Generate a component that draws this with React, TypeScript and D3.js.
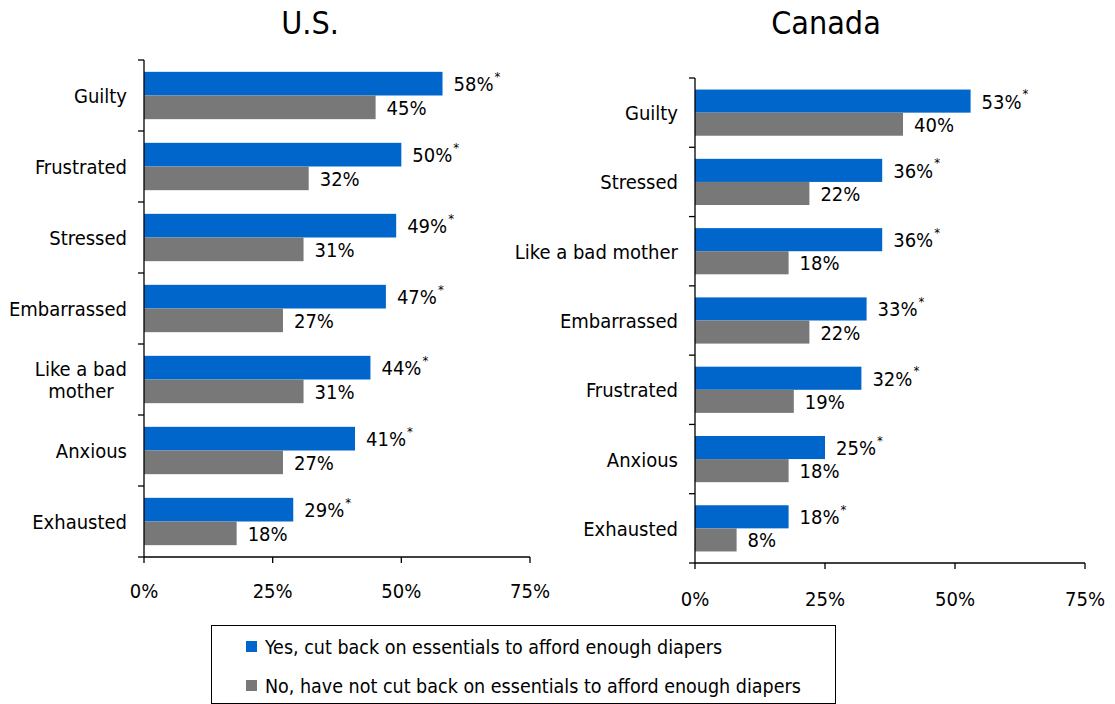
import React, { useEffect, useRef } from "react";
import * as d3 from "d3";

const usCategories = ["Guilty", "Frustrated", "Stressed", "Embarrassed", "Like a bad mother", "Anxious", "Exhausted"];
const usYes = [58, 50, 49, 47, 44, 41, 29];
const usNo = [45, 32, 31, 27, 31, 27, 18];

const caCategories = ["Guilty", "Stressed", "Like a bad mother", "Embarrassed", "Frustrated", "Anxious", "Exhausted"];
const caYes = [53, 36, 36, 33, 32, 25, 18];
const caNo = [40, 22, 18, 22, 19, 18, 8];

const xTicks = [0, 25, 50, 75];
const seriesKeys = ["yes", "no"];
const legendLabels = [
  "Yes, cut back on essentials to afford enough diapers",
  "No, have not cut back on essentials to afford enough diapers",
];

const BLUE = "#0066CC";
const GREY = "#787878";
const FONT = "'DejaVu Sans Condensed', 'DejaVu Sans', sans-serif";

type Panel = {
  title: string;
  cats: string[];
  yes: number[];
  no: number[];
  x0: number;
  x1: number;
  top: number;
  bottom: number;
  titleX: number;
  tickY: number;
  wrap: boolean;
};

const panels: Panel[] = [
  { title: "U.S.", cats: usCategories, yes: usYes, no: usNo, x0: 144, x1: 530, top: 60, bottom: 557, titleX: 310, tickY: 598, wrap: true },
  { title: "Canada", cats: caCategories, yes: caYes, no: caNo, x0: 695, x1: 1085, top: 78, bottom: 563, titleX: 826, tickY: 606, wrap: false },
];

function txt(sel: any, size: number) {
  return sel
    .style("font-family", FONT)
    .style("font-stretch", "condensed")
    .style("font-size", size + "px")
    .attr("fill", "#000");
}

export default function App() {
  const ref = useRef<SVGSVGElement>(null);
  useEffect(() => {
    const svg = d3.select(ref.current);
    svg.selectAll("*").remove();

    panels.forEach((p) => {
      const g = svg.append("g");
      const x = d3.scaleLinear().domain([0, 75]).range([p.x0, p.x1]);
      const y0 = d3.scaleBand<string>().domain(p.cats).range([p.top, p.bottom]).padding(0);
      const y1 = d3.scaleBand<string>().domain(seriesKeys).range([0, y0.bandwidth()]).paddingInner(0).paddingOuter(0.5);

      txt(g.append("text"), 32)
        .attr("x", p.titleX)
        .attr("y", 34)
        .attr("text-anchor", "middle")
        .text(p.title);

      p.cats.forEach((c, i) => {
        const by = y0(c)!;
        const vals = [p.yes[i], p.no[i]];
        seriesKeys.forEach((k, j) => {
          const yy = by + y1(k)!;
          g.append("rect")
            .attr("x", x(0))
            .attr("y", yy)
            .attr("width", x(vals[j]) - x(0))
            .attr("height", y1.bandwidth())
            .attr("fill", j === 0 ? BLUE : GREY);
          const t = txt(g.append("text"), 20)
            .attr("x", x(vals[j]) + 11)
            .attr("y", yy + y1.bandwidth() / 2 + 2)
            .attr("dominant-baseline", "middle")
            .text(vals[j] + "%");
          if (j === 0) {
            const w = (t.node() as SVGTextElement).getComputedTextLength();
            txt(g.append("text"), 13)
              .attr("x", x(vals[j]) + 11 + w + 1)
              .attr("y", yy + y1.bandwidth() / 2 - 3)
              .text("*");
          }
        });

        // category label
        const cy = by + y0.bandwidth() / 2 + 2;
        const lines = p.wrap && c === "Like a bad mother" ? ["Like a bad", "mother"] : [c];
        const lab = txt(g.append("text"), 20).attr("text-anchor", "middle");
        const spans = lines.map((ln, li) =>
          lab.append("tspan")
            .attr("x", 0)
            .attr("y", cy + (li - (lines.length - 1) / 2) * 22)
            .attr("dominant-baseline", "middle")
            .text(ln)
        );
        const maxW = Math.max(...spans.map((s) => (s.node() as SVGTextContentElement).getComputedTextLength()));
        const cx = p.x0 - 17 - maxW / 2;
        spans.forEach((s) => s.attr("x", cx));
      });

      // y axis
      g.append("line")
        .attr("x1", x(0)).attr("x2", x(0))
        .attr("y1", p.top).attr("y2", p.bottom)
        .attr("stroke", "#000").attr("stroke-width", 1.3);
      const bounds = [...p.cats.map((c) => y0(c)!), p.bottom];
      bounds.forEach((b) => {
        g.append("line")
          .attr("x1", x(0) - 6).attr("x2", x(0))
          .attr("y1", b).attr("y2", b)
          .attr("stroke", "#000").attr("stroke-width", 1.3);
      });
      // x axis
      g.append("line")
        .attr("x1", x(0)).attr("x2", x(75))
        .attr("y1", p.bottom).attr("y2", p.bottom)
        .attr("stroke", "#000").attr("stroke-width", 1.3);
      xTicks.forEach((t) => {
        g.append("line")
          .attr("x1", x(t)).attr("x2", x(t))
          .attr("y1", p.bottom).attr("y2", p.bottom + 6)
          .attr("stroke", "#000").attr("stroke-width", 1.3);
        txt(g.append("text"), 20)
          .attr("x", x(t))
          .attr("y", p.tickY)
          .attr("text-anchor", "middle")
          .text(t + "%");
      });
    });

    // legend
    const lg = svg.append("g");
    lg.append("rect")
      .attr("x", 211.5).attr("y", 625.5)
      .attr("width", 624).attr("height", 78)
      .attr("fill", "#fff").attr("stroke", "#000").attr("stroke-width", 1);
    legendLabels.forEach((l, i) => {
      const cy = 647 + i * 39;
      lg.append("rect")
        .attr("x", 246).attr("y", cy - 6)
        .attr("width", 11).attr("height", 11)
        .attr("fill", i === 0 ? BLUE : GREY);
      txt(lg.append("text"), 19.5)
        .attr("x", 265).attr("y", cy + 1)
        .attr("dominant-baseline", "middle")
        .text(l);
    });
  }, []);

  return (
    <svg ref={ref} width={1115} height={704} style={{ display: "block", position: "absolute", left: 0, top: 0, background: "#fff" }} />
  );
}
